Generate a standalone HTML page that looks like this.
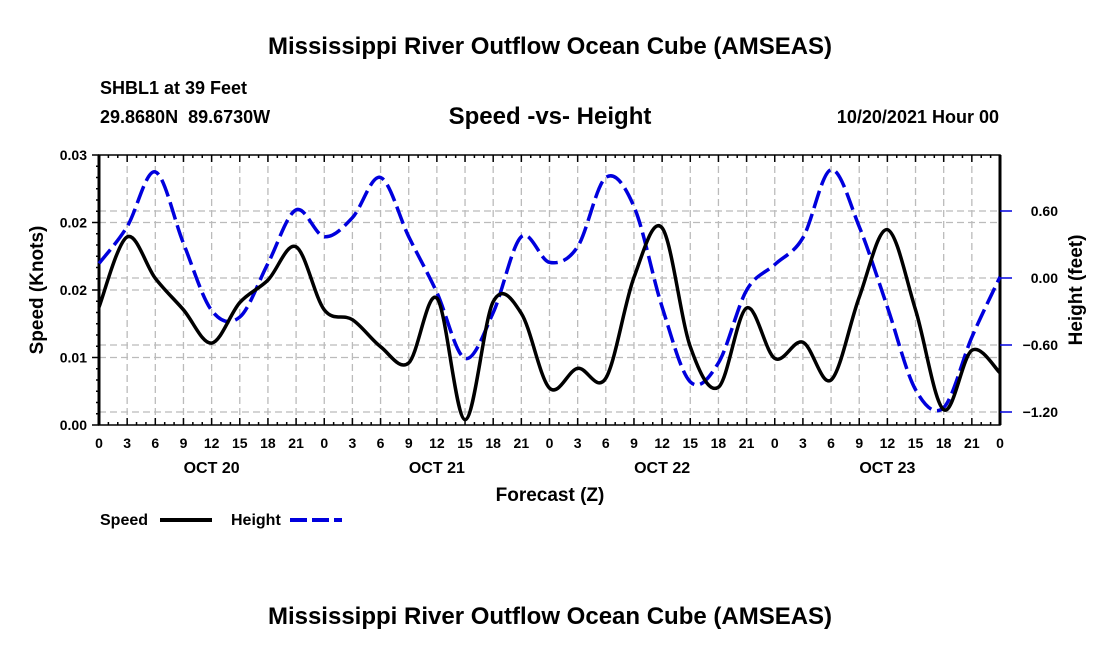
<!DOCTYPE html>
<html><head><meta charset="utf-8"><style>
body{margin:0;background:#fff;}
svg text{font-family:"Liberation Sans",sans-serif;font-weight:bold;fill:#000;}
</style></head><body>
<svg id="chart" width="1100" height="650" xmlns="http://www.w3.org/2000/svg">
<text x="550" y="54" font-size="24" text-anchor="middle">Mississippi River Outflow Ocean Cube (AMSEAS)</text>
<text x="100" y="94" font-size="18">SHBL1 at 39 Feet</text>
<text x="100" y="123" font-size="18">29.8680N&#160;&#160;89.6730W</text>
<text x="550" y="124" font-size="24" text-anchor="middle">Speed -vs- Height</text>
<text x="999" y="123" font-size="18" text-anchor="end">10/20/2021 Hour 00</text>
<text transform="translate(43,290) rotate(-90)" font-size="19" text-anchor="middle">Speed (Knots)</text>
<text transform="translate(1082,290) rotate(-90)" font-size="19" text-anchor="middle">Height (feet)</text>
<text x="550" y="501" font-size="19" text-anchor="middle">Forecast (Z)</text>
<g>
<text x="100" y="525" font-size="16">Speed</text>
<line x1="160" y1="520" x2="212" y2="520" stroke="#000" stroke-width="4"/>
<text x="231" y="525" font-size="16">Height</text>
<line x1="290" y1="520" x2="342" y2="520" stroke="#0000dd" stroke-width="4" stroke-dasharray="17,5"/>
</g>
<text x="550" y="624" font-size="24" text-anchor="middle">Mississippi River Outflow Ocean Cube (AMSEAS)</text>
<g id="plot"></g>
</svg>
<script>
const hours=[0,3,6,9,12,15,18,21,24,27,30,33,36,39,42,45,48,51,54,57,60,63,66,69,72,75,78,81,84,87,90,93,96];
const speed=[0.0131,0.0209,0.0163,0.0128,0.0091,0.0136,0.0161,0.0198,0.0128,0.0117,0.0087,0.0069,0.0141,0.0006,0.0137,0.0124,0.0041,0.0063,0.0052,0.0164,0.0219,0.0087,0.0042,0.0130,0.0074,0.0092,0.0050,0.0142,0.0217,0.0128,0.0017,0.0083,0.0058];
const height=[0.13,0.46,0.95,0.31,-0.29,-0.35,0.13,0.61,0.37,0.54,0.90,0.37,-0.13,-0.72,-0.31,0.37,0.14,0.28,0.90,0.64,-0.26,-0.93,-0.76,-0.11,0.12,0.36,0.97,0.46,-0.26,-1.00,-1.16,-0.53,0.01];
const xTickLabels=["0","3","6","9","12","15","18","21"];
const dayLabels=["OCT 20","OCT 21","OCT 22","OCT 23"];
const leftTicks=[0,0.0075,0.015,0.0225,0.03];
const leftTickLabels=["0.00","0.01","0.02","0.02","0.03"];
const rightTicks=[0.6,0,-0.6,-1.2];
const rightTickLabels=["0.60","0.00","\u22120.60","\u22121.20"];

const L=99,R=1000,T=155,B=425;
const X=h=>L+(R-L)*h/96;
const Y=s=>B-(B-T)*s/0.03;
const Y2=f=>278-f*(67/0.6);
const g=document.getElementById('plot');
const NS='http://www.w3.org/2000/svg';
function mk(tag,attrs){const e=document.createElementNS(NS,tag);for(const k in attrs)e.setAttribute(k,attrs[k]);g.appendChild(e);return e;}
for(let h=3;h<96;h+=3){const e=mk('line',{x1:X(h),x2:X(h),y1:T,y2:B,stroke:'#bbb','stroke-width':1.3,'stroke-dasharray':'7,4'});

}
leftTicks.slice(1,4).forEach(v=>{const e=mk('line',{x1:L,x2:R,y1:Y(v),y2:Y(v),stroke:'#bbb','stroke-width':1.3,'stroke-dasharray':'7,4'});

});
rightTicks.forEach(v=>{const e=mk('line',{x1:L,x2:R,y1:Y2(v),y2:Y2(v),stroke:'#bbb','stroke-width':1.3,'stroke-dasharray':'7,4'});

});
const fr=mk('rect',{x:L,y:T,width:R-L,height:B-T,fill:'none',stroke:'#000','stroke-width':1.5});


[[L,T,L,B],[R,T,R,B]].forEach(c=>{const e=mk('line',{x1:c[0],y1:c[1],x2:c[2],y2:c[3],stroke:'#000','stroke-width':3});

});
for(let h=0;h<=96;h+=1){const len=h%3==0?7:3;
[[T,T+len],[B,B-len]].forEach(p=>{const e=mk('line',{x1:X(h),x2:X(h),y1:p[0],y2:p[1],stroke:'#000','stroke-width':1.5});

});}
for(let i=0;i<=24;i++){const v=i*0.00125;const len=i%6==0?7:3;const e=mk('line',{x1:L-len,x2:L,y1:Y(v),y2:Y(v),stroke:'#000','stroke-width':1.5});

}
for(let h=0;h<=96;h+=3){const t=mk('text',{x:X(h),y:448,'font-size':14,'text-anchor':'middle'});t.textContent=xTickLabels[(h/3)%8];

}
dayLabels.forEach((d,i)=>{const t=mk('text',{x:X(i*24+12),y:473,'font-size':16,'text-anchor':'middle'});t.textContent=d;

});
leftTicks.forEach((v,i)=>{const t=mk('text',{x:L-12,y:Y(v)+5,'font-size':14,'text-anchor':'end'});t.textContent=leftTickLabels[i];

});
rightTicks.forEach((v,i)=>{const e=mk('line',{x1:R,x2:R+12,y1:Y2(v),y2:Y2(v),stroke:'#0000dd','stroke-width':1.5});


const t=mk('text',{x:1058,y:Y2(v)+5,'font-size':14,'text-anchor':'end'});t.textContent=rightTickLabels[i];

});
function path(pts){let d='M'+pts[0][0]+','+pts[0][1];
for(let i=0;i<pts.length-1;i++){const p0=pts[Math.max(0,i-1)],p1=pts[i],p2=pts[i+1],p3=pts[Math.min(pts.length-1,i+2)];
d+=' C'+(p1[0]+(p2[0]-p0[0])/6)+','+(p1[1]+(p2[1]-p0[1])/6)+' '+(p2[0]-(p3[0]-p1[0])/6)+','+(p2[1]-(p3[1]-p1[1])/6)+' '+p2[0]+','+p2[1];}
return d;}
const hp=mk('path',{d:path(hours.map((h,i)=>[X(h),Y2(height[i])])),fill:'none',stroke:'#0000dd','stroke-width':3.5,'stroke-dasharray':'18,6'});


const sp=mk('path',{d:path(hours.map((h,i)=>[X(h),Y(speed[i])])),fill:'none',stroke:'#000','stroke-width':3.5});


</script>
</body></html>
